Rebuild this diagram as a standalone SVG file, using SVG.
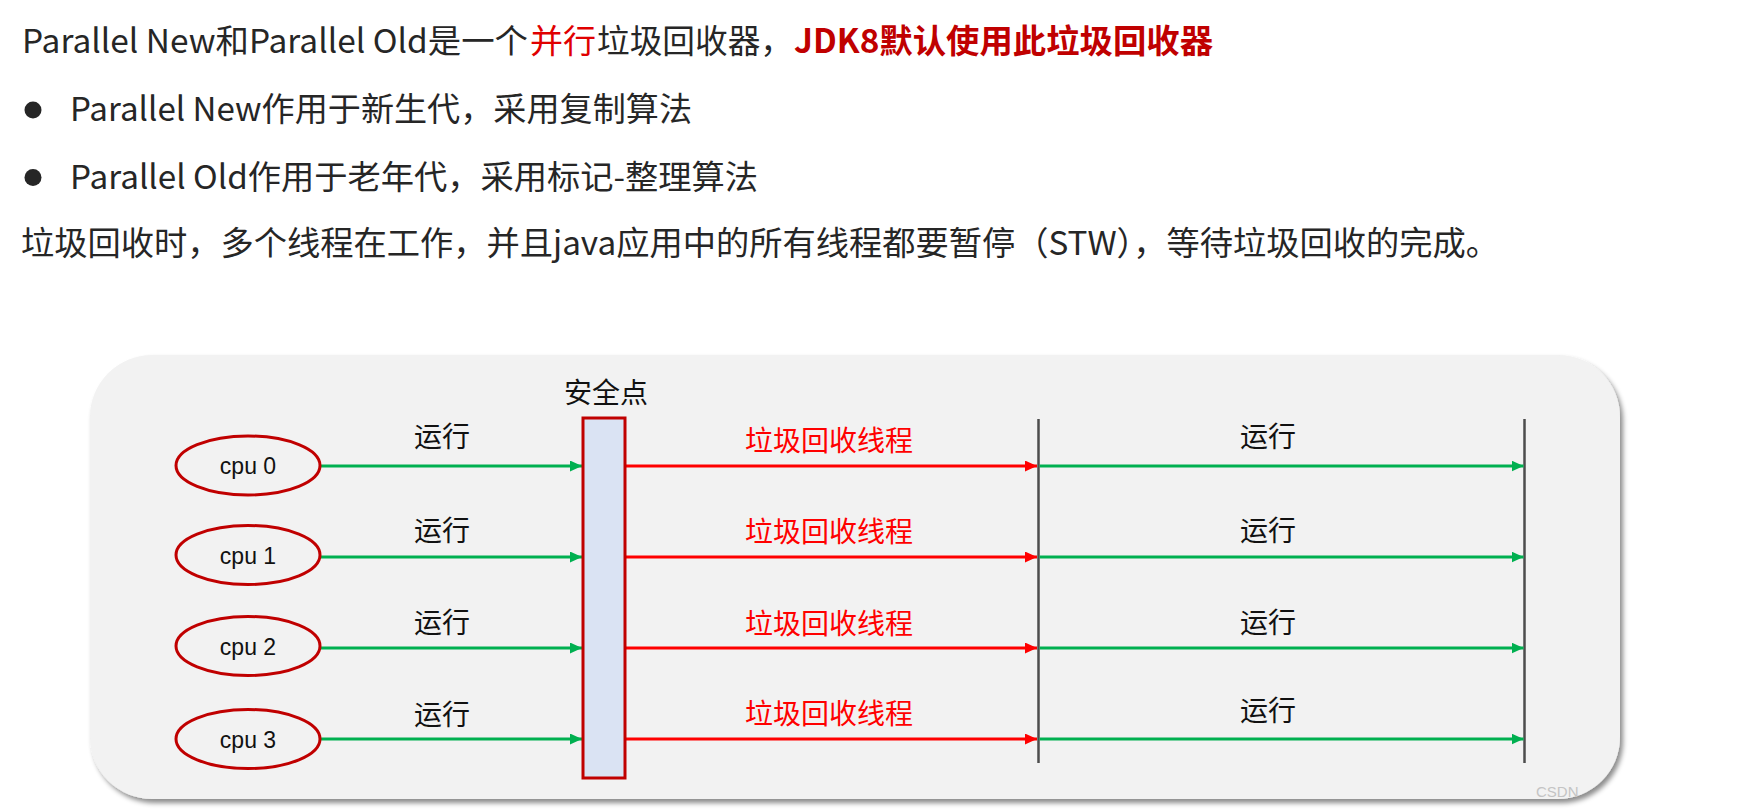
<svg xmlns="http://www.w3.org/2000/svg" width="1761" height="812" viewBox="0 0 1761 812">
<defs>
<style>
.top{font-family:"Noto Sans CJK SC","Noto Sans",sans-serif;font-size:33px;fill:#262626}
.lbl{font-family:"Noto Sans CJK SC","Noto Sans",sans-serif;font-size:28px;text-anchor:middle;fill:#111}
.red{fill:#FF0000}
.cpu{font-family:"Liberation Sans",Arial,sans-serif;font-size:23px;text-anchor:middle;fill:#111}
.ell{fill:#F2F2F2;stroke:#C00000;stroke-width:3}
.g{stroke:#00B050;stroke-width:3;fill:none;marker-end:url(#ag)}
.r{stroke:#FF0000;stroke-width:3;fill:none;marker-end:url(#ar)}
.div{stroke:#4D4D4D;stroke-width:2.5}
</style>
<marker id="ag" markerUnits="userSpaceOnUse" markerWidth="12" markerHeight="11" refX="12" refY="5.5" orient="auto"><path d="M0,0 L12,5.5 L0,11 z" fill="#00B050"/></marker>
<marker id="ar" markerUnits="userSpaceOnUse" markerWidth="12" markerHeight="11" refX="12" refY="5.5" orient="auto"><path d="M0,0 L12,5.5 L0,11 z" fill="#FF0000"/></marker>
<filter id="sh" x="-5%" y="-5%" width="110%" height="115%"><feDropShadow dx="3" dy="4" stdDeviation="2.5" flood-color="#000" flood-opacity="0.45"/></filter>
</defs>
<rect width="1761" height="812" fill="#FFFFFF"/>

<g id="header">
<text class="top" x="22" y="53" textLength="506" lengthAdjust="spacingAndGlyphs">Parallel New和Parallel Old是一个</text>
<text class="top" x="530" y="53" textLength="66" lengthAdjust="spacingAndGlyphs" style="fill:#E00000">并行</text>
<text class="top" x="597" y="53" textLength="196" lengthAdjust="spacingAndGlyphs">垃圾回收器，</text>
<text class="top" x="794" y="53" textLength="419" lengthAdjust="spacingAndGlyphs" style="fill:#C00000;font-weight:bold">JDK8默认使用此垃圾回收器</text>
<circle cx="33" cy="110" r="8.5" fill="#262626"/>
<text class="top" x="70" y="121" textLength="622" lengthAdjust="spacingAndGlyphs">Parallel New作用于新生代，采用复制算法</text>
<circle cx="33" cy="177.5" r="8.5" fill="#262626"/>
<text class="top" x="70" y="189" textLength="688" lengthAdjust="spacingAndGlyphs">Parallel Old作用于老年代，采用标记-整理算法</text>
<text class="top" x="21" y="255" textLength="1478" lengthAdjust="spacingAndGlyphs">垃圾回收时，多个线程在工作，并且java应用中的所有线程都要暂停（STW），等待垃圾回收的完成。</text>
</g>

<g id="panel">
<rect x="90" y="355" width="1530" height="444" rx="62" ry="62" fill="#F2F2F2" filter="url(#sh)"/>
</g>

<g id="connectors">
<line class="div" x1="1038.5" y1="419" x2="1038.5" y2="763"/>
<line class="div" x1="1524.5" y1="419" x2="1524.5" y2="763"/>
<line class="g" x1="320" y1="466" x2="582" y2="466"/>
<line class="g" x1="320" y1="557" x2="582" y2="557"/>
<line class="g" x1="320" y1="648" x2="582" y2="648"/>
<line class="g" x1="320" y1="739" x2="582" y2="739"/>
<line class="r" x1="626" y1="466" x2="1037" y2="466"/>
<line class="r" x1="626" y1="557" x2="1037" y2="557"/>
<line class="r" x1="626" y1="648" x2="1037" y2="648"/>
<line class="r" x1="626" y1="739" x2="1037" y2="739"/>
<line class="g" x1="1039.5" y1="466" x2="1523.5" y2="466"/>
<line class="g" x1="1039.5" y1="557" x2="1523.5" y2="557"/>
<line class="g" x1="1039.5" y1="648" x2="1523.5" y2="648"/>
<line class="g" x1="1039.5" y1="739" x2="1523.5" y2="739"/>
<text class="lbl" x="442" y="447">运行</text>
<text class="lbl" x="442" y="541">运行</text>
<text class="lbl" x="442" y="633">运行</text>
<text class="lbl" x="442" y="725">运行</text>
<text class="lbl red" x="829" y="451">垃圾回收线程</text>
<text class="lbl red" x="829" y="542">垃圾回收线程</text>
<text class="lbl red" x="829" y="634">垃圾回收线程</text>
<text class="lbl red" x="829" y="724">垃圾回收线程</text>
<text class="lbl" x="1268" y="447">运行</text>
<text class="lbl" x="1268" y="541">运行</text>
<text class="lbl" x="1268" y="633">运行</text>
<text class="lbl" x="1268" y="721">运行</text>
</g>

<g id="safepoint">
<text class="lbl" x="606" y="403">安全点</text>
<rect x="583" y="418" width="42" height="360" fill="#DAE3F3" stroke="#C00000" stroke-width="3"/>
</g>

<g id="cpu0"><ellipse class="ell" cx="248" cy="465.5" rx="72" ry="29.5"/><text class="cpu" x="248" y="474">cpu 0</text></g>
<g id="cpu1"><ellipse class="ell" cx="248" cy="555" rx="72" ry="29.5"/><text class="cpu" x="248" y="563.5">cpu 1</text></g>
<g id="cpu2"><ellipse class="ell" cx="248" cy="646" rx="72" ry="29.5"/><text class="cpu" x="248" y="654.5">cpu 2</text></g>
<g id="cpu3"><ellipse class="ell" cx="248" cy="739" rx="72" ry="29.5"/><text class="cpu" x="248" y="747.5">cpu 3</text></g>

<text x="1536" y="797" font-family="Liberation Sans, Arial, sans-serif" font-size="15" fill="#C4C4C4">CSDN</text>
</svg>
